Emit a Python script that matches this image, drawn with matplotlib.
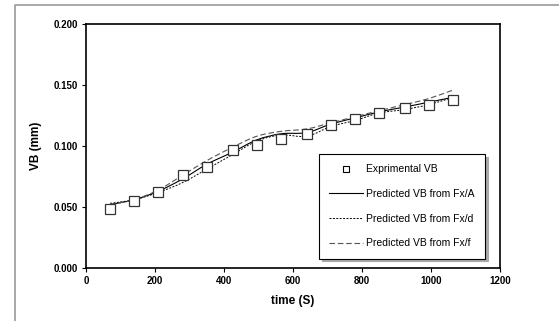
import numpy as np
import matplotlib.pyplot as plt
from matplotlib.path import Path
from matplotlib.patches import PathPatch
from matplotlib.lines import Line2D

plt.rcParams['font.family'] = ['Liberation Sans', 'DejaVu Sans']

time_s = [70, 140, 210, 280, 350, 425, 495, 565, 640, 710, 780, 850, 925, 995, 1065]
vb_exp = [0.048, 0.055, 0.062, 0.076, 0.083, 0.097, 0.101, 0.106, 0.110, 0.117,
          0.122, 0.127, 0.131, 0.134, 0.138]
vb_fxA = [0.052, 0.056, 0.063, 0.073, 0.085, 0.095, 0.105, 0.110, 0.111, 0.118,
          0.123, 0.128, 0.132, 0.136, 0.140]
vb_fxd = [0.053, 0.056, 0.062, 0.070, 0.081, 0.093, 0.104, 0.109, 0.108, 0.116,
          0.121, 0.127, 0.130, 0.134, 0.140]
vb_fxf = [0.052, 0.056, 0.064, 0.076, 0.088, 0.099, 0.108, 0.112, 0.114, 0.119,
          0.124, 0.129, 0.134, 0.139, 0.146]


def smooth_path(x, y):
    # excel style smoothed line: bezier through the points
    p = np.column_stack([x, y]).astype(float)
    verts = [p[0]]
    codes = [Path.MOVETO]
    n = len(p)
    for i in range(n - 1):
        p0 = p[i - 1] if i > 0 else p[i]
        p3 = p[i + 2] if i + 2 < n else p[i + 1]
        c1 = p[i] + (p[i + 1] - p0) / 6
        c2 = p[i + 1] - (p3 - p[i]) / 6
        verts += [c1, c2, p[i + 1]]
        codes += [Path.CURVE4] * 3
    return Path(verts, codes)


fig = plt.figure(figsize=(5.59, 3.21), dpi=100)
# outer chart border (left + top only)
fig.add_artist(Line2D([14.5 / 559, 14.5 / 559, 1.0], [0.0, 316.5 / 321, 316.5 / 321],
                      transform=fig.transFigure, color='#999999', lw=1.2))
ax = fig.add_axes([86 / 559, 53 / 321, 414 / 559, 244 / 321])

styles = [(vb_fxA, '-', 'black', 0.8), (vb_fxd, (0, (2, 1.5)), 'black', 0.7),
          (vb_fxf, (0, (5, 2.5)), '#555555', 0.8)]
handles = [Line2D([], [], ls='none', marker='s', mfc='white', mec='black', ms=4.5, mew=0.8)]
for vals, ls, col, lw in styles:
    ax.add_patch(PathPatch(smooth_path(time_s, vals), fill=False, edgecolor=col,
                           linestyle=ls, lw=lw))
    handles.append(Line2D([], [], ls=ls, color=col, lw=lw))

ax.plot(time_s, vb_exp, ls='none', marker='s', ms=7, mfc='white', mec='#333333', mew=0.9)

ax.set_xlim(0, 1200)
ax.set_ylim(0, 0.2)
ax.set_xticks(np.arange(0, 1201, 200))
ax.set_yticks(np.arange(0, 0.201, 0.05))
ax.set_yticklabels(['%.3f' % v for v in np.arange(0, 0.201, 0.05)])
ax.tick_params(direction='out', length=3, width=0.8, labelsize=7, pad=3)
for lab in ax.get_xticklabels() + ax.get_yticklabels():
    lab.set_fontweight('bold')
for s in ax.spines.values():
    s.set_linewidth(1.2)
ax.set_xlabel('time (S)', fontsize=8.5, fontweight='bold', labelpad=6)
ax.set_ylabel('VB (mm)', fontsize=8.5, fontweight='bold', labelpad=8)

labels = ['Exprimental VB', 'Predicted VB from Fx/A', 'Predicted VB from Fx/d',
          'Predicted VB from Fx/f']
leg = ax.legend(handles, labels, loc='upper left', bbox_to_anchor=(319 / 559, 167 / 321),
                bbox_transform=fig.transFigure, fontsize=7.5, frameon=True, fancybox=False,
                shadow={'color': '#aaaaaa', 'alpha': 1}, edgecolor='black', framealpha=1,
                handlelength=3.2, handletextpad=0.3, labelspacing=1.4, borderpad=1.0,
                borderaxespad=0)
leg.get_frame().set_linewidth(0.8)

fig.savefig('out.png', dpi=100)
